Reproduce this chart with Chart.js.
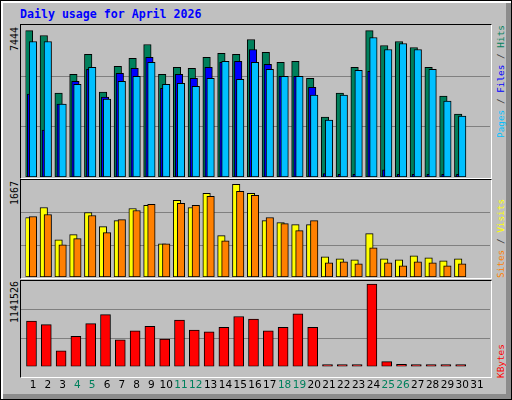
<!DOCTYPE html>
<html>
<head>
<meta charset="utf-8">
<script src="https://cdn.jsdelivr.net/npm/chart.js@4.4.1/dist/chart.umd.min.js"></script>
<style>
  html, body { margin: 0; padding: 0; background: #c0c0c0; }
  #frame {
    position: relative; width: 510px; height: 398px;
    background: #c0c0c0; border: 1px solid #000;
    box-shadow: inset 2px 2px 0 #fff, inset -5px -5px 0 #8c8c8c;
    overflow: hidden;
  }
  .panel {
    position: absolute; left: 19px; width: 470px;
    border-top: 1px solid #000; border-left: 1px solid #000;
    border-bottom: 1px solid #fff; border-right: 1px solid #fff;
  }
  .wrap { position: absolute; left: 20px; width: 469px; }
  .title {
    position: absolute; left: 19px; top: 6px;
    font: bold 11.6px "DejaVu Sans Mono", monospace; color: #0000ff;
  }
  .rot {
    position: absolute; white-space: nowrap; line-height: 12px;
    transform-origin: left top; transform: rotate(-90deg);
  }
  .max { font: 10px "DejaVu Sans Mono", monospace; color: #000; }
  .leg { font: 9.4px "DejaVu Sans Mono", monospace; color: #404040; }
</style>
</head>
<body>
<div id="frame">
  <div class="title">Daily usage for April 2026</div>

  <div class="panel" style="top:23px;height:153px"></div>
  <div class="panel" style="top:178px;height:98px"></div>
  <div class="panel" style="top:279px;height:96px"></div>

  <div class="wrap" style="top:24px;height:152px"><canvas id="top"></canvas></div>
  <div class="wrap" style="top:179px;height:97px"><canvas id="mid"></canvas></div>
  <div class="wrap" style="top:280px;height:116px"><canvas id="bot"></canvas></div>

  <div class="rot max" style="left:8px;top:50px">7444</div>
  <div class="rot max" style="left:8px;top:204px">1667</div>
  <div class="rot max" style="left:8px;top:322px">1141526</div>

  <div class="rot leg" style="left:494px;top:137px"><span style="color:#00c0ff">Pages</span> / <span style="color:#0000ff">Files</span> / <span style="color:#00805c">Hits</span></div>
  <div class="rot leg" style="left:494px;top:277px"><span style="color:#ff8000">Sites</span> / <span style="color:#ffff00">Visits</span></div>
  <div class="rot leg" style="left:494px;top:377px"><span style="color:#ff0000">KBytes</span></div>
</div>

<script>
const days = Array.from({ length: 31 }, (_, i) => String(i + 1));
const weekendDays = ['4', '5', '11', '12', '18', '19', '25', '26'];

const hits = [7444, 7191, 4261, 5221, 6231, 4311, 5625, 6029, 6736, 5221,
  5574, 5524, 6079, 6281, 6231, 6989, 6332, 5827, 5877, 5018,
  3048, 4261, 5574, 7444, 6685, 6888, 6584, 5574, 4109, 3200, null];
const files = [4210, 2391, 3705, 4867, 5473, 4058, 5271, 5524, 6079, 4513,
  5221, 5018, 5574, 5827, 5877, 6483, 5726, 5119, 5119, 4564,
  168, 135, 135, 5372, 370, 135, 135, 135, 135, 135, null];
const pages = [6888, 6888, 3705, 4715, 5574, 3957, 4867, 5119, 5827, 4715,
  4766, 4614, 5018, 5877, 4968, 5827, 5473, 5119, 5119, 4159,
  2896, 4159, 5422, 7090, 6483, 6787, 6483, 5473, 3856, 3099, null];

const sites = [1069, 1250, 670, 761, 1160, 906, 1015, 1232, 1287, 598,
  1377, 1250, 1504, 743, 1667, 1504, 1015, 978, 942, 942,
  362, 326, 308, 779, 326, 308, 381, 344, 290, 326, null];
const visits = [1087, 1123, 580, 689, 1105, 797, 1033, 1196, 1305, 598,
  1323, 1287, 1450, 652, 1540, 1468, 1069, 960, 834, 1015,
  254, 272, 236, 525, 254, 199, 272, 254, 199, 236, null];

const kbytes = [629000, 579000, 216600, 416600, 591600, 716600, 366600, 491600, 554100, 379100,
  641600, 504100, 479100, 541600, 691600, 654100, 491600, 541600, 729100, 541600,
  25000, 25000, 25000, 1141526, 66600, 29000, 25000, 25000, 25000, 25000, null];

// webalizer puts its bars a few pixels apart inside each day
const shiftBars = {
  id: 'shiftBars',
  afterDatasetsUpdate(chart) {
    chart.data.datasets.forEach((ds, i) => {
      chart.getDatasetMeta(i).data.forEach(el => { el.x += ds.xShift || 0; });
    });
  }
};

// grid lines run across the whole panel, not just the chart area
const panelGrid = {
  id: 'panelGrid',
  beforeDatasetsDraw(chart) {
    const y = chart.scales.y;
    const ctx = chart.ctx;
    ctx.save();
    ctx.strokeStyle = '#808080';
    ctx.lineWidth = 1;
    [y.max / 3, y.max * 2 / 3].forEach(v => {
      const py = Math.round(y.getPixelForValue(v)) + 0.5;
      ctx.beginPath();
      ctx.moveTo(0, py);
      ctx.lineTo(chart.width, py);
      ctx.stroke();
    });
    ctx.restore();
  }
};

function bar(label, data, color, order, shift, thickness) {
  return {
    label, data, order,
    backgroundColor: color,
    borderColor: '#000',
    borderWidth: 1,
    borderSkipped: false,
    barThickness: thickness,
    grouped: false,
    xShift: shift
  };
}

function makeChart(id, datasets, yMax, showDays) {
  return new Chart(document.getElementById(id), {
    type: 'bar',
    data: { labels: days, datasets },
    plugins: [shiftBars, panelGrid],
    options: {
      responsive: true,
      maintainAspectRatio: false,
      animation: false,
      layout: { padding: { left: 4.6, right: 5.6, top: 0, bottom: 0 } },
      plugins: { legend: { display: false }, tooltip: { enabled: false } },
      scales: {
        x: {
          display: showDays,
          offset: true,
          grid: { display: false },
          border: { display: false },
          ticks: {
            padding: 5,
            autoSkip: false,
            maxRotation: 0,
            font: { family: 'DejaVu Sans', size: 10.5 },
            color: ctx => weekendDays.includes(days[ctx.index]) ? '#00805c' : '#000'
          }
        },
        y: { display: false, min: 0, max: yMax }
      }
    }
  });
}

makeChart('top', [
  bar('Hits', hits, '#00805c', 3, -4, 7.5),
  bar('Files', files, '#0000ff', 2, -2, 7.5),
  bar('Pages', pages, '#00c0ff', 1, 0, 7.5)
], 7727, false);

makeChart('mid', [
  bar('Sites', sites, '#ffff00', 2, -4, 7.5),
  bar('Visits', visits, '#ff8000', 1, 0, 7.5)
], 1744, false);

makeChart('bot', [
  bar('KBytes', kbytes, '#ff0000', 1, -1.5, 10)
], 1182600, true);
</script>
</body>
</html>
